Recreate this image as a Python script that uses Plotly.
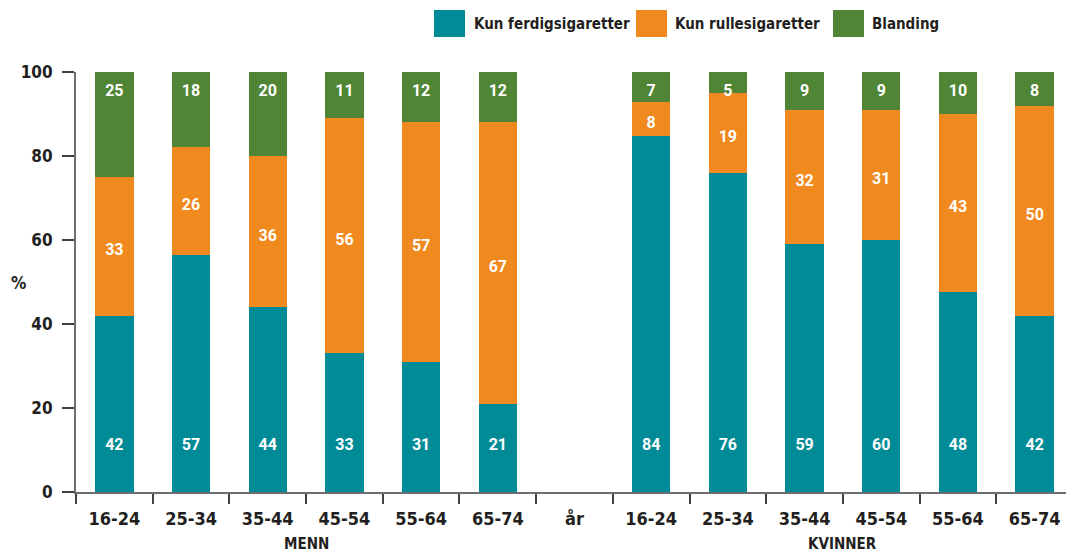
import plotly.graph_objects as go

# ---- data ----
age_groups = ["16-24", "25-34", "35-44", "45-54", "55-64", "65-74"]
gap_label = "år"
group_labels = ["MENN", "KVINNER"]
series_names = ["Kun ferdigsigaretter", "Kun rullesigaretter", "Blanding"]

men_ferdig = [42, 57, 44, 33, 31, 21]
men_rulle = [33, 26, 36, 56, 57, 67]
men_blanding = [25, 18, 20, 11, 12, 12]

women_ferdig = [84, 76, 59, 60, 48, 42]
women_rulle = [8, 19, 32, 31, 43, 50]
women_blanding = [7, 5, 9, 9, 10, 8]

y_ticks = [0, 20, 40, 60, 80, 100]

# ---- styles ----
TEAL = "rgb(0,139,151)"
ORANGE = "rgb(240,137,30)"
GREEN = "rgb(79,133,53)"
NARROW = "DejaVu Sans Condensed, Liberation Sans Narrow, Liberation Sans, sans-serif"
LABEL_FONT = dict(family="Roboto, Liberation Sans, sans-serif", size=16, color="white", weight="bold")
INK = "#231f20"

OFF = 8  # page body margin
W, H = 1074 - OFF, 553 - OFF
L, T = 76 - OFF, 72 - OFF
PW, PH = 997, 420
R, B = W - L - PW, H - T - PH

ferdig = men_ferdig + women_ferdig
rulle = men_rulle + women_rulle
blanding = men_blanding + women_blanding
n = len(age_groups)
xpos = list(range(n)) + [n + 1 + i for i in range(n)]
all_ticks = list(range(2 * n + 1))
all_ticktext = age_groups + [gap_label] + age_groups

fig = go.Figure()
colors = [TEAL, ORANGE, GREEN]
for name, vals, col in zip(series_names, [ferdig, rulle, blanding], colors):
    fig.add_trace(go.Bar(x=xpos, y=vals, name=name, marker=dict(color=col, line=dict(width=0)),
                         width=0.5, showlegend=False, hoverinfo="name+y"))

# label positions derived from normalized shares
totals = [a + b + c for a, b, c in zip(ferdig, rulle, blanding)]
f_share = [a / t * 100 for a, t in zip(ferdig, totals)]
r_share = [b / t * 100 for b, t in zip(rulle, totals)]
y_ferdig_lbl = [11.0 for _ in ferdig]
y_rulle_lbl = [f + r / 2 - 1.2 for f, r in zip(f_share, r_share)]
y_blanding_lbl = [95.3 for _ in blanding]

for vals, ys in [(ferdig, y_ferdig_lbl), (rulle, y_rulle_lbl), (blanding, y_blanding_lbl)]:
    fig.add_trace(go.Scatter(x=xpos, y=ys, mode="text", text=[str(v) for v in vals],
                             textfont=LABEL_FONT, showlegend=False, hoverinfo="skip"))

def px_x(p):
    return (p - OFF - L) / PW

def px_y(p):
    return (T + PH - (p - OFF)) / PH

# manual legend
legend_items = [(434, 472), (636, 673), (833, 870)]
for (bx, tx), name, col in zip(legend_items, series_names, colors):
    fig.add_shape(type="rect", xref="paper", yref="paper",
                  x0=px_x(bx), x1=px_x(bx + 31), y0=px_y(37), y1=px_y(10),
                  fillcolor=col, line=dict(width=0))
    fig.add_annotation(xref="paper", yref="paper", x=px_x(tx), y=px_y(24), text=name,
                       showarrow=False, xanchor="left", yanchor="middle",
                       font=dict(family=NARROW, size=15, color=INK, weight="bold"))

# group labels
for lbl, xc in zip(group_labels, [(n - 1) / 2, n + 1 + (n - 1) / 2]):
    fig.add_annotation(xref="x", yref="paper", x=xc, y=px_y(544), text=lbl, showarrow=False,
                       xanchor="center", yanchor="middle",
                       font=dict(family=NARROW, size=15, color=INK, weight="bold"))

# % label
fig.add_annotation(xref="paper", yref="paper", x=px_x(18), y=px_y(283), text="%", showarrow=False,
                   xanchor="center", yanchor="middle",
                   font=dict(family=NARROW, size=17, color=INK, weight="bold"))

fig.update_layout(
    width=W, height=H, margin=dict(l=L, r=R, t=T, b=B, pad=0),
    barmode="stack", barnorm="percent",
    plot_bgcolor="white", paper_bgcolor="white",
    showlegend=False,
    xaxis=dict(range=[-0.5, 2 * n + 0.5], tickmode="array", tickvals=all_ticks, ticktext=all_ticktext,
               ticks="outside", ticklen=0, showline=True, linecolor="#6d6e71", linewidth=2,
               showgrid=False, zeroline=False,
               tickfont=dict(family=NARROW, size=18, color=INK, weight="bold"),
               ticklabelstandoff=9,
               minor=dict(tickmode="array", tickvals=[i - 0.5 for i in range(2 * n + 2)],
                          ticks="outside", ticklen=10, tickcolor="#414042", tickwidth=2)),
    yaxis=dict(range=[0, 100], tickmode="array", tickvals=y_ticks, ticks="outside", ticklen=12,
               tickcolor="#414042", tickwidth=2, showline=True, linecolor="#6d6e71", linewidth=2,
               showgrid=False, zeroline=False, ticklabelstandoff=6,
               tickfont=dict(family=NARROW, size=17, color=INK, weight="bold")),
)

fig.write_html("out.html")
